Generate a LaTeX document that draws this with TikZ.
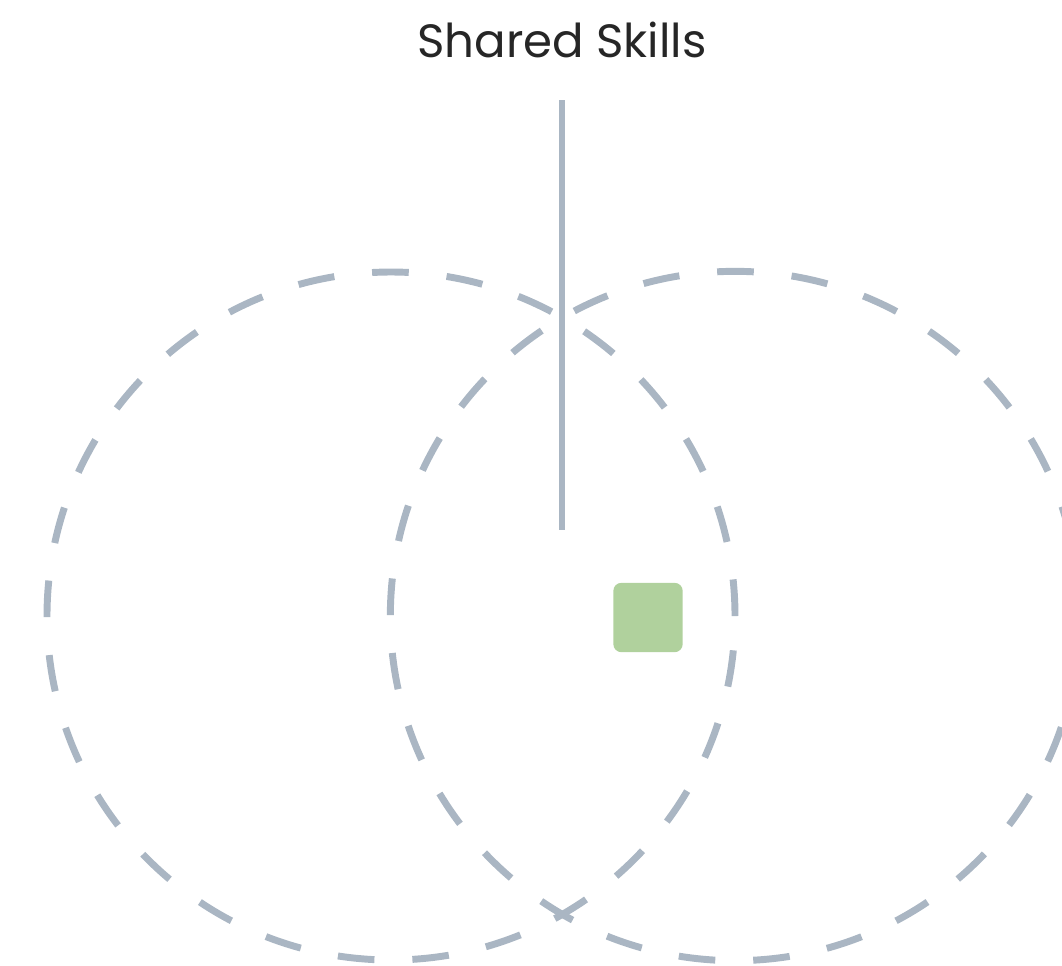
\documentclass[tikz,border=0pt]{standalone}
\usepackage{fontspec}
\setmainfont{Poppins}
\usepackage{tikz}

\definecolor{setgrey}{RGB}{170,182,195}
\definecolor{itemgreen}{RGB}{176,209,157}

\begin{document}
\begin{tikzpicture}[x=0.75pt, y=-0.75pt,
        setline/.style={draw=setgrey, line width=5.2pt, dash pattern=on 27.5pt off 28.5pt},
        pointer/.style={draw=setgrey, line width=5.2pt}]
        \useasboundingbox (0,0) rectangle (1062,965);
        \clip (0,0) rectangle (1062,965);

        \node[font=\fontsize{35}{40}\selectfont, text=black!85] (shared) at (562, 40) {Shared Skills};

        \node[circle, setline, inner sep=0pt, minimum size=516pt] (leftset) at (391, 616) {};
        \node[circle, setline, inner sep=0pt, minimum size=517pt] (rightset) at (735, 616) {};

        \coordinate (top) at (562, 100);
        \coordinate (tip) at (562, 530);
        \draw[pointer] (top) -- (tip);

        \node[fill=itemgreen, rounded corners=6pt, minimum size=52pt, inner sep=0pt] (item) at (648, 617.5) {};
    \end{tikzpicture}
\end{document}
